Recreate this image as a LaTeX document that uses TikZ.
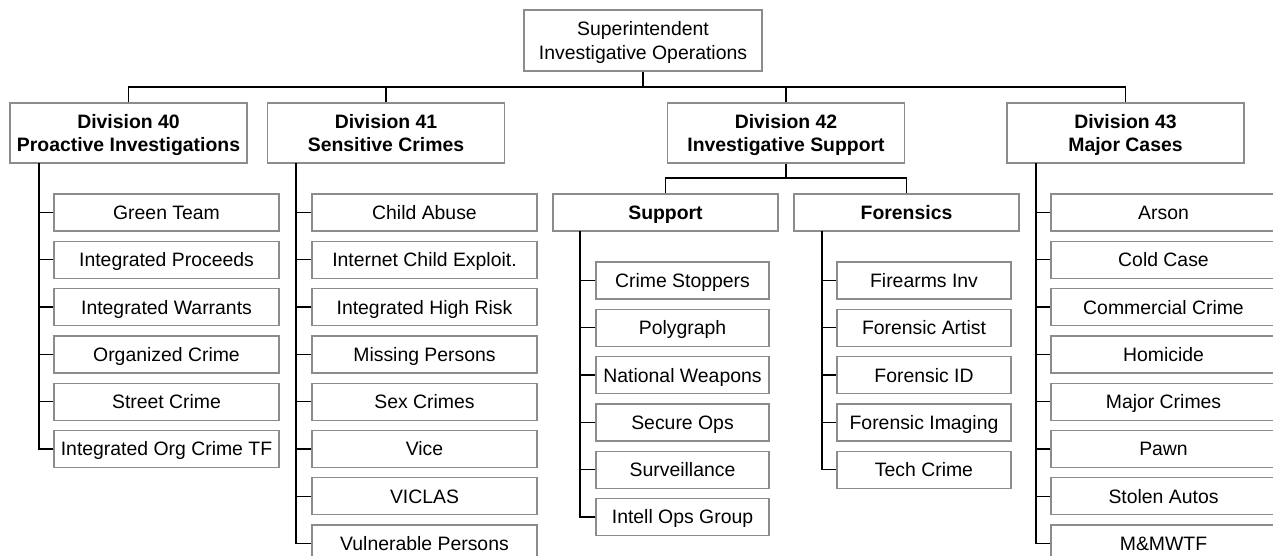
\documentclass[tikz,border=0pt]{standalone}
\usepackage{fontspec}
\setmainfont{Liberation Sans}
\usepackage{xcolor}
\definecolor{boxgray}{RGB}{140,140,140}
\tikzset{
  basebox/.style={draw=boxgray, line width=1.3pt, fill=white, minimum width=225pt,
    minimum height=37pt, inner sep=0pt, align=center,
    font=\fontsize{19.4}{23.5}\selectfont},
  unitbox/.style={basebox, text height=13.9pt, text depth=0pt},
  headbox/.style={unitbox, font=\fontsize{19.4}{23.5}\selectfont\bfseries},
  twoline/.style={basebox, text height=37.4pt, text depth=0pt},
  divbox/.style={twoline, minimum width=237pt, minimum height=60pt,
    font=\fontsize{19.4}{23.5}\selectfont\bfseries},
  link/.style={line width=1.3pt, black},
}

\begin{document}
\begin{tikzpicture}[x=1pt,y=-1pt]
\useasboundingbox (0,0) rectangle (1273,556);
\clip (0,0) rectangle (1273,556);

% Top of the chart
\node[twoline, minimum width=238pt, minimum height=61pt] (supt) at (643,40.5) {Superintendent\\Investigative Operations};

% Divisions
\node[divbox] (d40) at (128.5,133) {Division 40\\Proactive Investigations};
\node[divbox] (d41) at (386,133) {Division 41\\Sensitive Crimes};
\node[divbox] (d42) at (786,133) {Division 42\\Investigative Support};
\node[divbox] (d43) at (1125.5,133) {Division 43\\Major Cases};

\coordinate (bus) at (643,87);
\draw[link] (supt.south) -- (bus);
\draw[link] (d40.north) |- (bus) -| (d43.north);
\draw[link] (d41.north) -- (d41.north |- bus);
\draw[link] (d42.north) -- (d42.north |- bus);

% Sections of Division 42
\node[headbox] (sup) at (665.5,212.5) {Support};
\node[headbox] (for) at (906.5,212.5) {Forensics};
\coordinate (bus42) at (786,178);
\draw[link] (d42.south) -- (bus42);
\draw[link] (sup.north) |- (bus42) -| (for.north);

% Units of Division 40
\coordinate (s40) at (39,163);
\foreach \name [count=\i] in {Green Team, Integrated Proceeds, Integrated Warrants, Organized Crime, Street Crime, Integrated Org Crime TF} {
    \node[unitbox] (u40-\i) at (166.5,{212.5+47.3*(\i-1)}) {\name};
    \draw[link] (u40-\i.west) -- (u40-\i.west -| s40);
}
\draw[link] (s40) |- (u40-6.west);

% Units of Division 41
\coordinate (s41) at (296,163);
\foreach \name [count=\i] in {Child Abuse, Internet Child Exploit., Integrated High Risk, Missing Persons, Sex Crimes, Vice, VICLAS, Vulnerable Persons} {
    \node[unitbox] (u41-\i) at (424.5,{212.5+47.3*(\i-1)}) {\name};
    \draw[link] (u41-\i.west) -- (u41-\i.west -| s41);
}
\draw[link] (s41) |- (u41-8.west);

% Units of Support
\coordinate (ssup) at (580,231);
\foreach \name [count=\i] in {Crime Stoppers, Polygraph, National Weapons, Secure Ops, Surveillance, Intell Ops Group} {
    \node[unitbox, minimum width=173pt] (usup-\i) at (682.5,{280.5+47.3*(\i-1)}) {\name};
    \draw[link] (usup-\i.west) -- (usup-\i.west -| ssup);
}
\draw[link] (ssup) |- (usup-6.west);

% Units of Forensics
\coordinate (sfor) at (822,231);
\foreach \name [count=\i] in {Firearms Inv, Forensic Artist, Forensic ID, Forensic Imaging, Tech Crime} {
    \node[unitbox, minimum width=174pt] (ufor-\i) at (924,{280.5+47.3*(\i-1)}) {\name};
    \draw[link] (ufor-\i.west) -- (ufor-\i.west -| sfor);
}
\draw[link] (sfor) |- (ufor-5.west);

% Units of Division 43
\coordinate (s43) at (1036,163);
\foreach \name [count=\i] in {Arson, Cold Case, Commercial Crime, Homicide, Major Crimes, Pawn, Stolen Autos, M\&MWTF} {
    \node[unitbox] (u43-\i) at (1163.5,{212.5+47.3*(\i-1)}) {\name};
    \draw[link] (u43-\i.west) -- (u43-\i.west -| s43);
}
\draw[link] (s43) |- (u43-8.west);
\end{tikzpicture}
\end{document}
